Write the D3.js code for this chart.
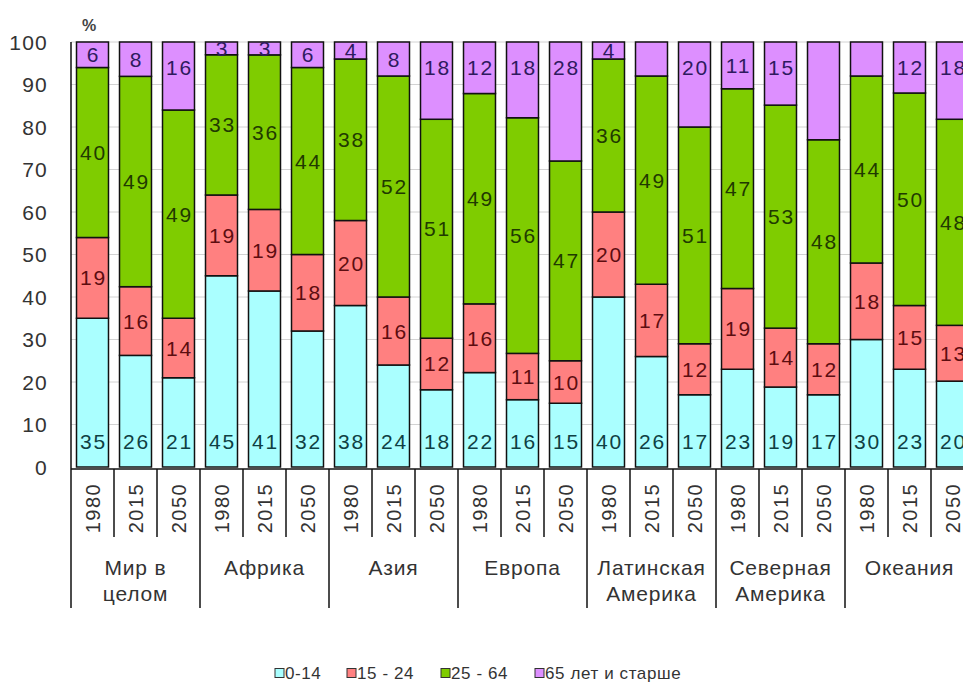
<!DOCTYPE html>
<html>
<head>
<meta charset="utf-8">
<script src="https://cdn.jsdelivr.net/npm/d3@7"></script>
<style>
  html, body { margin: 0; padding: 0; background: #fff; }
  svg { display: block; }
  text { font-family: "Liberation Sans", Arial, sans-serif; }
</style>
</head>
<body>
<svg id="chart" width="963" height="682"></svg>
<script>
// ---------- data ----------
const regions = ["Мир в|целом", "Африка", "Азия", "Европа", "Латинская|Америка", "Северная|Америка", "Океания"];
const years = ["1980", "2015", "2050"];
const seriesNames = ["0-14", "15 - 24", "25 - 64", "65 лет и старше"];
const age0_14  = [35, 26, 21, 45, 41, 32, 38, 24, 18, 22, 16, 15, 40, 26, 17, 23, 19, 17, 30, 23, 20];
const age15_24 = [19, 16, 14, 19, 19, 18, 20, 16, 12, 16, 11, 10, 20, 17, 12, 19, 14, 12, 18, 15, 13];
const age25_64 = [40, 49, 49, 33, 36, 44, 38, 52, 51, 49, 56, 47, 36, 49, 51, 47, 53, 48, 44, 50, 48];
// null = no label printed in the original (segment fills the remainder up to 100 %)
const age65    = [6, 8, 16, 3, 3, 6, 4, 8, 18, 12, 18, 28, 4, null, 20, 11, 15, null, null, 12, 18];
const yTicks = [0, 10, 20, 30, 40, 50, 60, 70, 80, 90, 100];

const colors = ["#aaffff", "#ff8080", "#7fcc00", "#dd8fff"];
const labelColors = ["#0f3f44", "#5c0d10", "#1f3a00", "#2e1a5e"];

// ---------- build rows ----------
const cats = [];
regions.forEach((r, gi) => years.forEach((y, yi) => cats.push({ region: r, year: y, i: gi * 3 + yi })));
const rows = cats.map((c, i) => {
  const a = age0_14[i], b = age15_24[i], g = age25_64[i];
  const o = age65[i] != null ? age65[i] : Math.max(0, 100 - a - b - g);
  return { i, s0: a, s1: b, s2: g, s3: o, labels: [a, b, g, age65[i]] };
});
const keys = ["s0", "s1", "s2", "s3"];
const stacked = d3.stack().keys(keys).offset(d3.stackOffsetExpand)(rows);

// ---------- scales ----------
const svg = d3.select("#chart");
const left = 71, step = 43;
const x = d3.scaleBand().domain(d3.range(cats.length))
  .range([left, left + step * cats.length]).paddingInner(0.256).paddingOuter(0.128);
const y = d3.scaleLinear().domain([0, 1]).range([467, 42]);
const yPct = d3.scaleLinear().domain([0, 100]).range([467, 42]);

// grid
svg.append("g").selectAll("line").data(yTicks.filter(t => t > 0)).join("line")
  .attr("x1", left).attr("x2", 963)
  .attr("y1", d => yPct(d)).attr("y2", d => yPct(d))
  .attr("stroke", "#d2d2d2").attr("stroke-width", 1);

// y tick labels
svg.append("g").selectAll("text").data(yTicks).join("text")
  .attr("x", 48).attr("y", d => yPct(d))
  .attr("text-anchor", "end").attr("dominant-baseline", "central")
  .attr("font-size", 21).attr("letter-spacing", 1.2).attr("fill", "#333")
  .text(d => d);

svg.append("text").attr("x", 82).attr("y", 25)
  .attr("dominant-baseline", "central").attr("font-size", 16).attr("font-weight", "bold")
  .attr("fill", "#444").text("%");

// bars
const gBars = svg.append("g");
stacked.forEach((layer, li) => {
  gBars.append("g").selectAll("rect").data(layer).join("rect")
    .attr("x", (d, i) => x(i)).attr("width", x.bandwidth())
    .attr("y", d => y(d[1])).attr("height", d => y(d[0]) - y(d[1]))
    .attr("fill", colors[li]).attr("stroke", "#111").attr("stroke-width", 1.5);
});

// labels
const gLab = svg.append("g");
stacked.forEach((layer, li) => {
  gLab.append("g").selectAll("text").data(layer.filter((d, i) => rows[i].labels[li] != null)).join("text")
    .attr("x", d => x(d.data.i) + x.bandwidth() / 2 + 1)
    .attr("y", d => {
      const top = y(d[1]), bot = y(d[0]);
      if (li === 0) return bot - 26;
      if (li === 3) return top + Math.min((bot - top) / 2, 25);
      return (top + bot) / 2;
    })
    .attr("text-anchor", "middle").attr("dominant-baseline", "central")
    .attr("font-size", 21).attr("letter-spacing", 1.8).attr("fill", labelColors[li])
    .text(d => rows[d.data.i].labels[li]);
});

// y axis line
svg.append("line").attr("x1", left).attr("x2", left).attr("y1", 42).attr("y2", 608)
  .attr("stroke", "#111").attr("stroke-width", 1.5);
// x axis line
svg.append("line").attr("x1", left).attr("x2", 963).attr("y1", 469).attr("y2", 469)
  .attr("stroke", "#111").attr("stroke-width", 1.5);

// category separators
const bounds = d3.range(1, cats.length + 1);
svg.append("g").selectAll("line").data(bounds).join("line")
  .attr("x1", d => left + d * step).attr("x2", d => left + d * step)
  .attr("y1", 469).attr("y2", d => d % 3 === 0 ? 608 : 537)
  .attr("stroke", "#111").attr("stroke-width", 1.5);

// year labels
svg.append("g").selectAll("text").data(cats).join("text")
  .attr("transform", d => `translate(${left + d.i * step + step / 2},508) rotate(-90)`)
  .attr("text-anchor", "middle").attr("dominant-baseline", "central")
  .attr("font-size", 20).attr("letter-spacing", 1.5).attr("fill", "#333")
  .text(d => d.year);

// region labels
const gReg = svg.append("g");
regions.forEach((r, gi) => {
  const cx = left + step * (gi * 3 + 1.5);
  r.split("|").forEach((line, li) => {
    gReg.append("text").attr("x", cx).attr("y", 567 + li * 26)
      .attr("text-anchor", "middle").attr("dominant-baseline", "central")
      .attr("font-size", 21).attr("letter-spacing", 0.8).attr("fill", "#333")
      .text(line);
  });
});

// legend
const legX = [275, 347, 441, 535];
const gLeg = svg.append("g");
seriesNames.forEach((n, i) => {
  gLeg.append("rect").attr("x", legX[i]).attr("y", 668.5).attr("width", 9).attr("height", 9)
    .attr("fill", colors[i]).attr("stroke", "#333").attr("stroke-width", 1);
  gLeg.append("text").attr("x", legX[i] + 10).attr("y", 673)
    .attr("dominant-baseline", "central").attr("font-size", 17).attr("letter-spacing", 0.6)
    .attr("fill", "#333").text(n);
});
</script>
</body>
</html>
